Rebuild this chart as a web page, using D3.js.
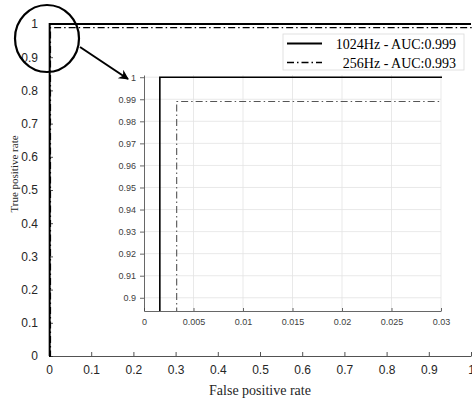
<!DOCTYPE html>
<html lang="en">
<head>
    <meta charset="UTF-8">
    <title>ROC curves</title>
    <script src="https://d3js.org/d3.v7.min.js" charset="utf-8"></script>
    <style>
        body { margin: 0; background: #fff; }
        .tick text { font-family: "Liberation Sans", Arial, sans-serif; fill: #262626; }
        .serif { font-family: "Liberation Serif", "Times New Roman", serif; fill: #262626; }
    </style>
</head>
<body>
    <div id="vis"></div>

    <script>

        // data
        var seriesNames = ["1024Hz - AUC:0.999", "256Hz - AUC:0.993"];
        var fpr1024 = [0, 0.0016, 0.0016, 1];
        var tpr1024 = [0, 0, 1, 1];
        var fpr256 = [0, 0.0033, 0.0033, 1, 1];
        var tpr256 = [0, 0, 0.989, 0.989, 1];

        var mainTicks = [0, 0.1, 0.2, 0.3, 0.4, 0.5, 0.6, 0.7, 0.8, 0.9, 1];
        var insetXTicks = [0, 0.005, 0.01, 0.015, 0.02, 0.025, 0.03];
        var insetYTicks = [0.9, 0.91, 0.92, 0.93, 0.94, 0.95, 0.96, 0.97, 0.98, 0.99, 1];

        var width = 472;
        var height = 399;

        var series = [
            { name: seriesNames[0], pts: fpr1024.map(function(d, i){ return [d, tpr1024[i]]; }), dash: null, w: 2, insetColor: "#000" },
            { name: seriesNames[1], pts: fpr256.map(function(d, i){ return [d, tpr256[i]]; }), dash: "7,3,1.5,3", w: 1.4, insetColor: "#555" }
        ];

        var svg = d3.select("#vis")
            .append("svg")
              .attr('width', width)
              .attr('height', height);

        // ---- main plot
        var x = d3.scaleLinear().domain([0, 1]).range([49, 471]);
        var y = d3.scaleLinear().domain([0, 1]).range([356, 24]);

        var gx = svg.append('g')
            .attr('transform', 'translate(0,356)')
            .call(d3.axisBottom(x).tickValues(mainTicks).tickFormat(d3.format('')).tickSizeInner(-4).tickSizeOuter(0).tickPadding(9));
        var gy = svg.append('g')
            .attr('transform', 'translate(49,0)')
            .call(d3.axisLeft(y).tickValues(mainTicks).tickFormat(d3.format('')).tickSizeInner(-4).tickSizeOuter(0).tickPadding(11));
        [gx, gy].forEach(function(g){
            g.selectAll('text').style('font-size', '12px');
            g.selectAll('line, path').attr('stroke', '#262626').attr('stroke-width', 0.8);
        });

        var line = d3.line().x(function(d){ return x(d[0]); }).y(function(d){ return y(d[1]); });
        svg.selectAll('.main-line')
            .data(series)
            .enter().append('path')
              .attr('class', 'main-line')
              .attr('d', function(d){ return line(d.pts); })
              .attr('fill', 'none')
              .attr('stroke', '#000')
              .attr('stroke-width', function(d){ return d.w; })
              .attr('stroke-dasharray', function(d){ return d.dash; });

        svg.append('text')
            .attr('class', 'serif')
            .attr('x', 260).attr('y', 395)
            .attr('text-anchor', 'middle')
            .style('font-size', '14px')
            .text('False positive rate');
        svg.append('text')
            .attr('class', 'serif')
            .attr('transform', 'translate(18,174) rotate(-90)')
            .attr('text-anchor', 'middle')
            .style('font-size', '11px')
            .text('True positive rate');

        // ---- legend
        var leg = svg.append('g');
        leg.append('rect')
            .attr('x', 283).attr('y', 34).attr('width', 181).attr('height', 36)
            .attr('fill', '#fff').attr('stroke', '#d9d9d9').attr('stroke-width', 0.8);
        var rows = leg.selectAll('.row').data(series).enter().append('g')
            .attr('transform', function(d, i){ return 'translate(0,' + (43.5 + i * 19) + ')'; });
        rows.append('line')
            .attr('x1', 287).attr('x2', 322).attr('y1', 0).attr('y2', 0)
            .attr('stroke', '#000')
            .attr('stroke-width', function(d){ return d.w; })
            .attr('stroke-dasharray', function(d){ return d.dash; });
        rows.append('text')
            .attr('class', 'serif')
            .attr('x', 456).attr('y', 5)
            .attr('text-anchor', 'end')
            .style('font-size', '14px')
            .style('fill', '#000')
            .text(function(d){ return d.name; });

        // ---- zoom marker
        svg.append('ellipse')
            .attr('cx', 47).attr('cy', 38.5).attr('rx', 32).attr('ry', 33.5)
            .attr('fill', 'none').attr('stroke', '#000').attr('stroke-width', 2.2);
        svg.append('defs').append('marker')
            .attr('id', 'arrow')
            .attr('viewBox', '0 0 10 10')
            .attr('refX', 9).attr('refY', 5)
            .attr('markerWidth', 6).attr('markerHeight', 5)
            .attr('markerUnits', 'strokeWidth')
            .attr('orient', 'auto')
          .append('path')
            .attr('d', 'M0,0 L10,5 L0,10 L3,5 Z')
            .attr('fill', '#000');
        svg.append('line')
            .attr('x1', 80).attr('y1', 47).attr('x2', 128).attr('y2', 79)
            .attr('stroke', '#000').attr('stroke-width', 2)
            .attr('marker-end', 'url(#arrow)');

        // ---- inset
        var ix = d3.scaleLinear().domain([0, 0.03]).range([144, 441]);
        var iy = d3.scaleLinear().domain([0.894, 1.001]).range([311, 75]);

        var inset = svg.append('g');
        inset.append('rect')
            .attr('x', 144).attr('y', 75).attr('width', 297).attr('height', 236)
            .attr('fill', '#fff');

        // grid
        inset.selectAll('.vgrid').data(insetXTicks.slice(1)).enter().append('line')
            .attr('x1', function(d){ return ix(d); }).attr('x2', function(d){ return ix(d); })
            .attr('y1', 75).attr('y2', 311)
            .attr('stroke', '#e3e3e3').attr('stroke-width', 0.8);
        inset.selectAll('.hgrid').data(insetYTicks).enter().append('line')
            .attr('x1', 144).attr('x2', 441)
            .attr('y1', function(d){ return iy(d); }).attr('y2', function(d){ return iy(d); })
            .attr('stroke', '#e3e3e3').attr('stroke-width', 0.8);

        var igx = inset.append('g')
            .attr('transform', 'translate(0,311)')
            .call(d3.axisBottom(ix).tickValues(insetXTicks).tickFormat(d3.format('')).tickSizeInner(-3).tickSizeOuter(0).tickPadding(8));
        var igy = inset.append('g')
            .attr('transform', 'translate(144,0)')
            .call(d3.axisLeft(iy).tickValues(insetYTicks).tickFormat(d3.format('')).tickSizeInner(4).tickSizeOuter(0).tickPadding(4));
        [igx, igy].forEach(function(g){
            g.selectAll('text').style('font-size', '9px').style('fill', '#404040');
            g.selectAll('line, path').attr('stroke', '#404040').attr('stroke-width', 0.8);
        });

        inset.append('clipPath').attr('id', 'insetclip')
          .append('rect').attr('x', 144).attr('y', 73).attr('width', 298).attr('height', 238);

        var iline = d3.line().x(function(d){ return ix(d[0]); }).y(function(d){ return iy(d[1]); });
        inset.append('g')
            .attr('clip-path', 'url(#insetclip)')
          .selectAll('path')
            .data(series)
            .enter().append('path')
              .attr('d', function(d){ return iline(d.pts); })
              .attr('fill', 'none')
              .attr('stroke', function(d){ return d.insetColor; })
              .attr('stroke-width', function(d){ return d.w * 0.8; })
              .attr('stroke-dasharray', function(d){ return d.dash; });

    </script>
</body>
</html>
